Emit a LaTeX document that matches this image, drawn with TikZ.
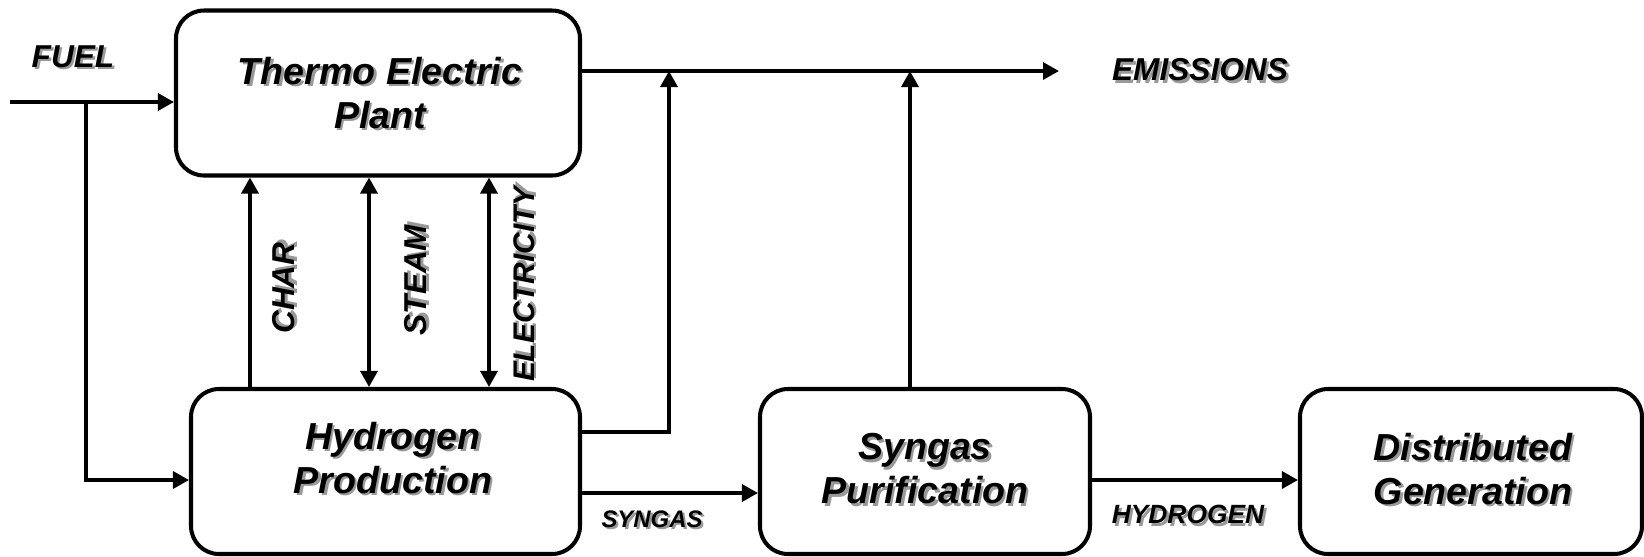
\documentclass[tikz,border=0pt]{standalone}
\usepackage{fontspec}
\setmainfont{Liberation Sans}
\usetikzlibrary{arrows.meta,positioning}
\newcommand{\shd}[1]{\makebox[0pt][l]{\hspace{0.7pt}\raisebox{-0.7pt}{\color{black!40}#1}}#1}
\tikzset{
  unit/.style={draw, line width=1.15pt, rounded corners=0.28cm, minimum height=1.65cm},
  unittxt/.style={align=center, font=\fontsize{10.7}{12.5}\selectfont\bfseries\itshape},
  flow/.style={font=\fontsize{9}{10}\selectfont\bfseries\itshape},
}

\begin{document}
\begin{tikzpicture}[>={Triangle[length=1.6mm,width=1.7mm]}, line width=0.95pt]
    \useasboundingbox (0,0) rectangle (16.44,-5.56);

    % 四个方框
    \node[unit, minimum width=4.04cm] (thermo) at (3.78,-0.93) {};
    \node[unit, minimum width=3.89cm] (hydro) at (3.855,-4.715) {};
    \node[unit, minimum width=3.30cm] (syngas) at (9.25,-4.715) {};
    \node[unit, minimum width=3.42cm] (dist) at (14.71,-4.715) {};

    % 方框文字
    \node[unittxt] (thermotxt) at (3.80,-0.94) {\shd{Thermo Electric}\\\shd{Plant}};
    \node[unittxt] (hydrotxt) at (3.93,-4.59) {\shd{Hydrogen}\\\shd{Production}};
    \node[unittxt] (syngastxt) at (9.25,-4.70) {\shd{Syngas}\\\shd{Purification}};
    \node[unittxt] (disttxt) at (14.73,-4.70) {\shd{Distributed}\\\shd{Generation}};

    % 辅助坐标
    \coordinate (fuelin) at (0.105,-1.02);
    \coordinate (fuelbr) at (0.86,-1.02);
    \coordinate (fuelhp) at (0.86,-4.80);
    \coordinate (emis) at (10.59,-0.71);
    \coordinate (hpout) at (0,-4.32);
    \coordinate (hpup) at (6.69,-0.71);
    \coordinate (sgup) at (9.10,-0.71);
    \coordinate (sgy) at (0,-4.93);
    \coordinate (hyy) at (0,-4.80);
    \coordinate (charx) at (2.50,0);
    \coordinate (steamx) at (3.69,0);
    \coordinate (elecx) at (4.89,0);

    % 燃料
    \draw[->] (fuelin) -- (fuelin -| thermo.west);
    \draw[->] (fuelbr) -- (fuelhp) -- (fuelhp -| hydro.west);
    \node[flow] (fuel) at (0.73,-0.58) {\shd{FUEL}};

    % 排放
    \draw[->] (thermo.east |- emis) -- (emis);
    \draw[->] (hydro.east |- hpout) -| (hpup);
    \draw[->] (syngas.north -| sgup) -- (sgup);
    \node[flow] (emislbl) at (12.00,-0.71) {\shd{EMISSIONS}};

    % 两个方框之间的竖直箭头
    \draw[->] (hydro.north -| charx) -- (thermo.south -| charx);
    \draw[<->] (hydro.north -| steamx) -- (thermo.south -| steamx);
    \draw[<->] (hydro.north -| elecx) -- (thermo.south -| elecx);
    \node[flow, rotate=90] (charlbl) at (2.85,-2.88) {\shd{CHAR}};
    \node[flow, rotate=90] (steamlbl) at (4.17,-2.80) {\shd{STEAM}};
    \node[flow, rotate=90, font=\fontsize{8.5}{10}\selectfont\bfseries\itshape] (eleclbl) at (5.25,-2.84) {\shd{ELECTRICITY}};

    % 合成气与氢气
    \draw[->] (hydro.east |- sgy) -- (syngas.west |- sgy);
    \node[flow, font=\fontsize{6.8}{8}\selectfont\bfseries\itshape] (sglbl) at (6.52,-5.20) {\shd{SYNGAS}};
    \draw[->] (syngas.east |- hyy) -- (dist.west |- hyy);
    \node[flow, font=\fontsize{7.5}{9}\selectfont\bfseries\itshape] (hylbl) at (11.88,-5.16) {\shd{HYDROGEN}};
\end{tikzpicture}
\end{document}
